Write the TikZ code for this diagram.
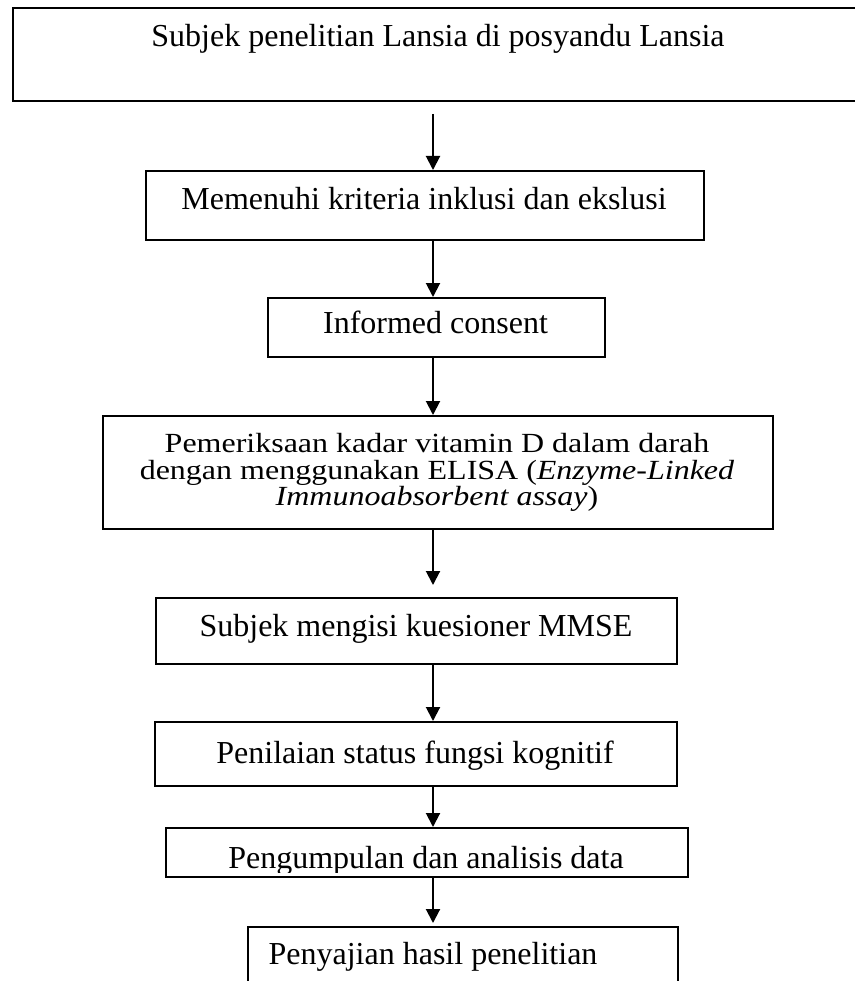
\documentclass[tikz,border=0pt]{standalone}
\usepackage{fontspec}
\setmainfont{Liberation Serif}
\newfontfamily\elisafont[FakeStretch=1.155]{Liberation Serif}
\usetikzlibrary{arrows.meta}
\begin{document}
\begin{tikzpicture}[x=1pt,y=-1pt,
  box/.style={draw, line width=2pt, inner sep=0pt, anchor=north west},
  txt/.style={font=\fontsize{32}{38}\selectfont, inner sep=0pt, anchor=base},
  mtxt/.style={font=\elisafont\fontsize{27.7}{26.7}\selectfont, inner sep=0pt, align=center, anchor=center},
  arr/.style={line width=2pt, -{Triangle[length=14pt,width=14pt]}}]
\useasboundingbox (0,0) rectangle (854,981);
% boxes
\node[box, minimum width=860pt, minimum height=93pt] (b1) at (12,7) {};
\node[box, minimum width=558pt, minimum height=69pt] (b2) at (144.5,170) {};
\node[box, minimum width=337pt, minimum height=59pt] (b3) at (267,297) {};
\node[box, minimum width=670pt, minimum height=113pt] (b4) at (102,415) {};
\node[box, minimum width=521pt, minimum height=66pt] (b5) at (155,597) {};
\node[box, minimum width=522pt, minimum height=64pt] (b6) at (154,721) {};
\node[box, minimum width=522pt, minimum height=49pt] (b7) at (165,827) {};
\node[box, minimum width=430pt, minimum height=80pt] (b8) at (247,926) {};
% texts
\node[txt] (t1) at (438,46.7) {Subjek penelitian Lansia di posyandu Lansia};
\node[txt] (t2) at (424,210) {Memenuhi kriteria inklusi dan ekslusi};
\node[txt] (t3) at (435.5,333.3) {Informed consent};
\node[mtxt] (t4) at (437,472.4) {Pemeriksaan kadar vitamin D dalam darah\\
  dengan menggunakan ELISA (\textit{Enzyme-Linked}\\
  \textit{Immunoabsorbent assay})};
\node[txt] (t5) at (416,636.7) {Subjek mengisi kuesioner MMSE};
\node[txt] (t6) at (415,763) {Penilaian status fungsi kognitif};
\begin{scope}
  \clip (165,827) rectangle (687,872);
  \node[txt] (t7) at (426,868) {Pengumpulan dan analisis data};
\end{scope}
\node[txt] (t8) at (433,964) {Penyajian hasil penelitian};
% arrows
\coordinate (ax) at (433,0);
\draw[arr, shorten <=12pt] (b1.south -| ax) -- (b2.north -| ax);
\draw[arr] (b2.south -| ax) -- (b3.north -| ax);
\draw[arr] (b3.south -| ax) -- (b4.north -| ax);
\draw[arr, shorten >=12pt] (b4.south -| ax) -- (b5.north -| ax);
\draw[arr] (b5.south -| ax) -- (b6.north -| ax);
\draw[arr] (b6.south -| ax) -- (b7.north -| ax);
\draw[arr, shorten >=3pt] (b7.south -| ax) -- (b8.north -| ax);
\end{tikzpicture}
\end{document}
